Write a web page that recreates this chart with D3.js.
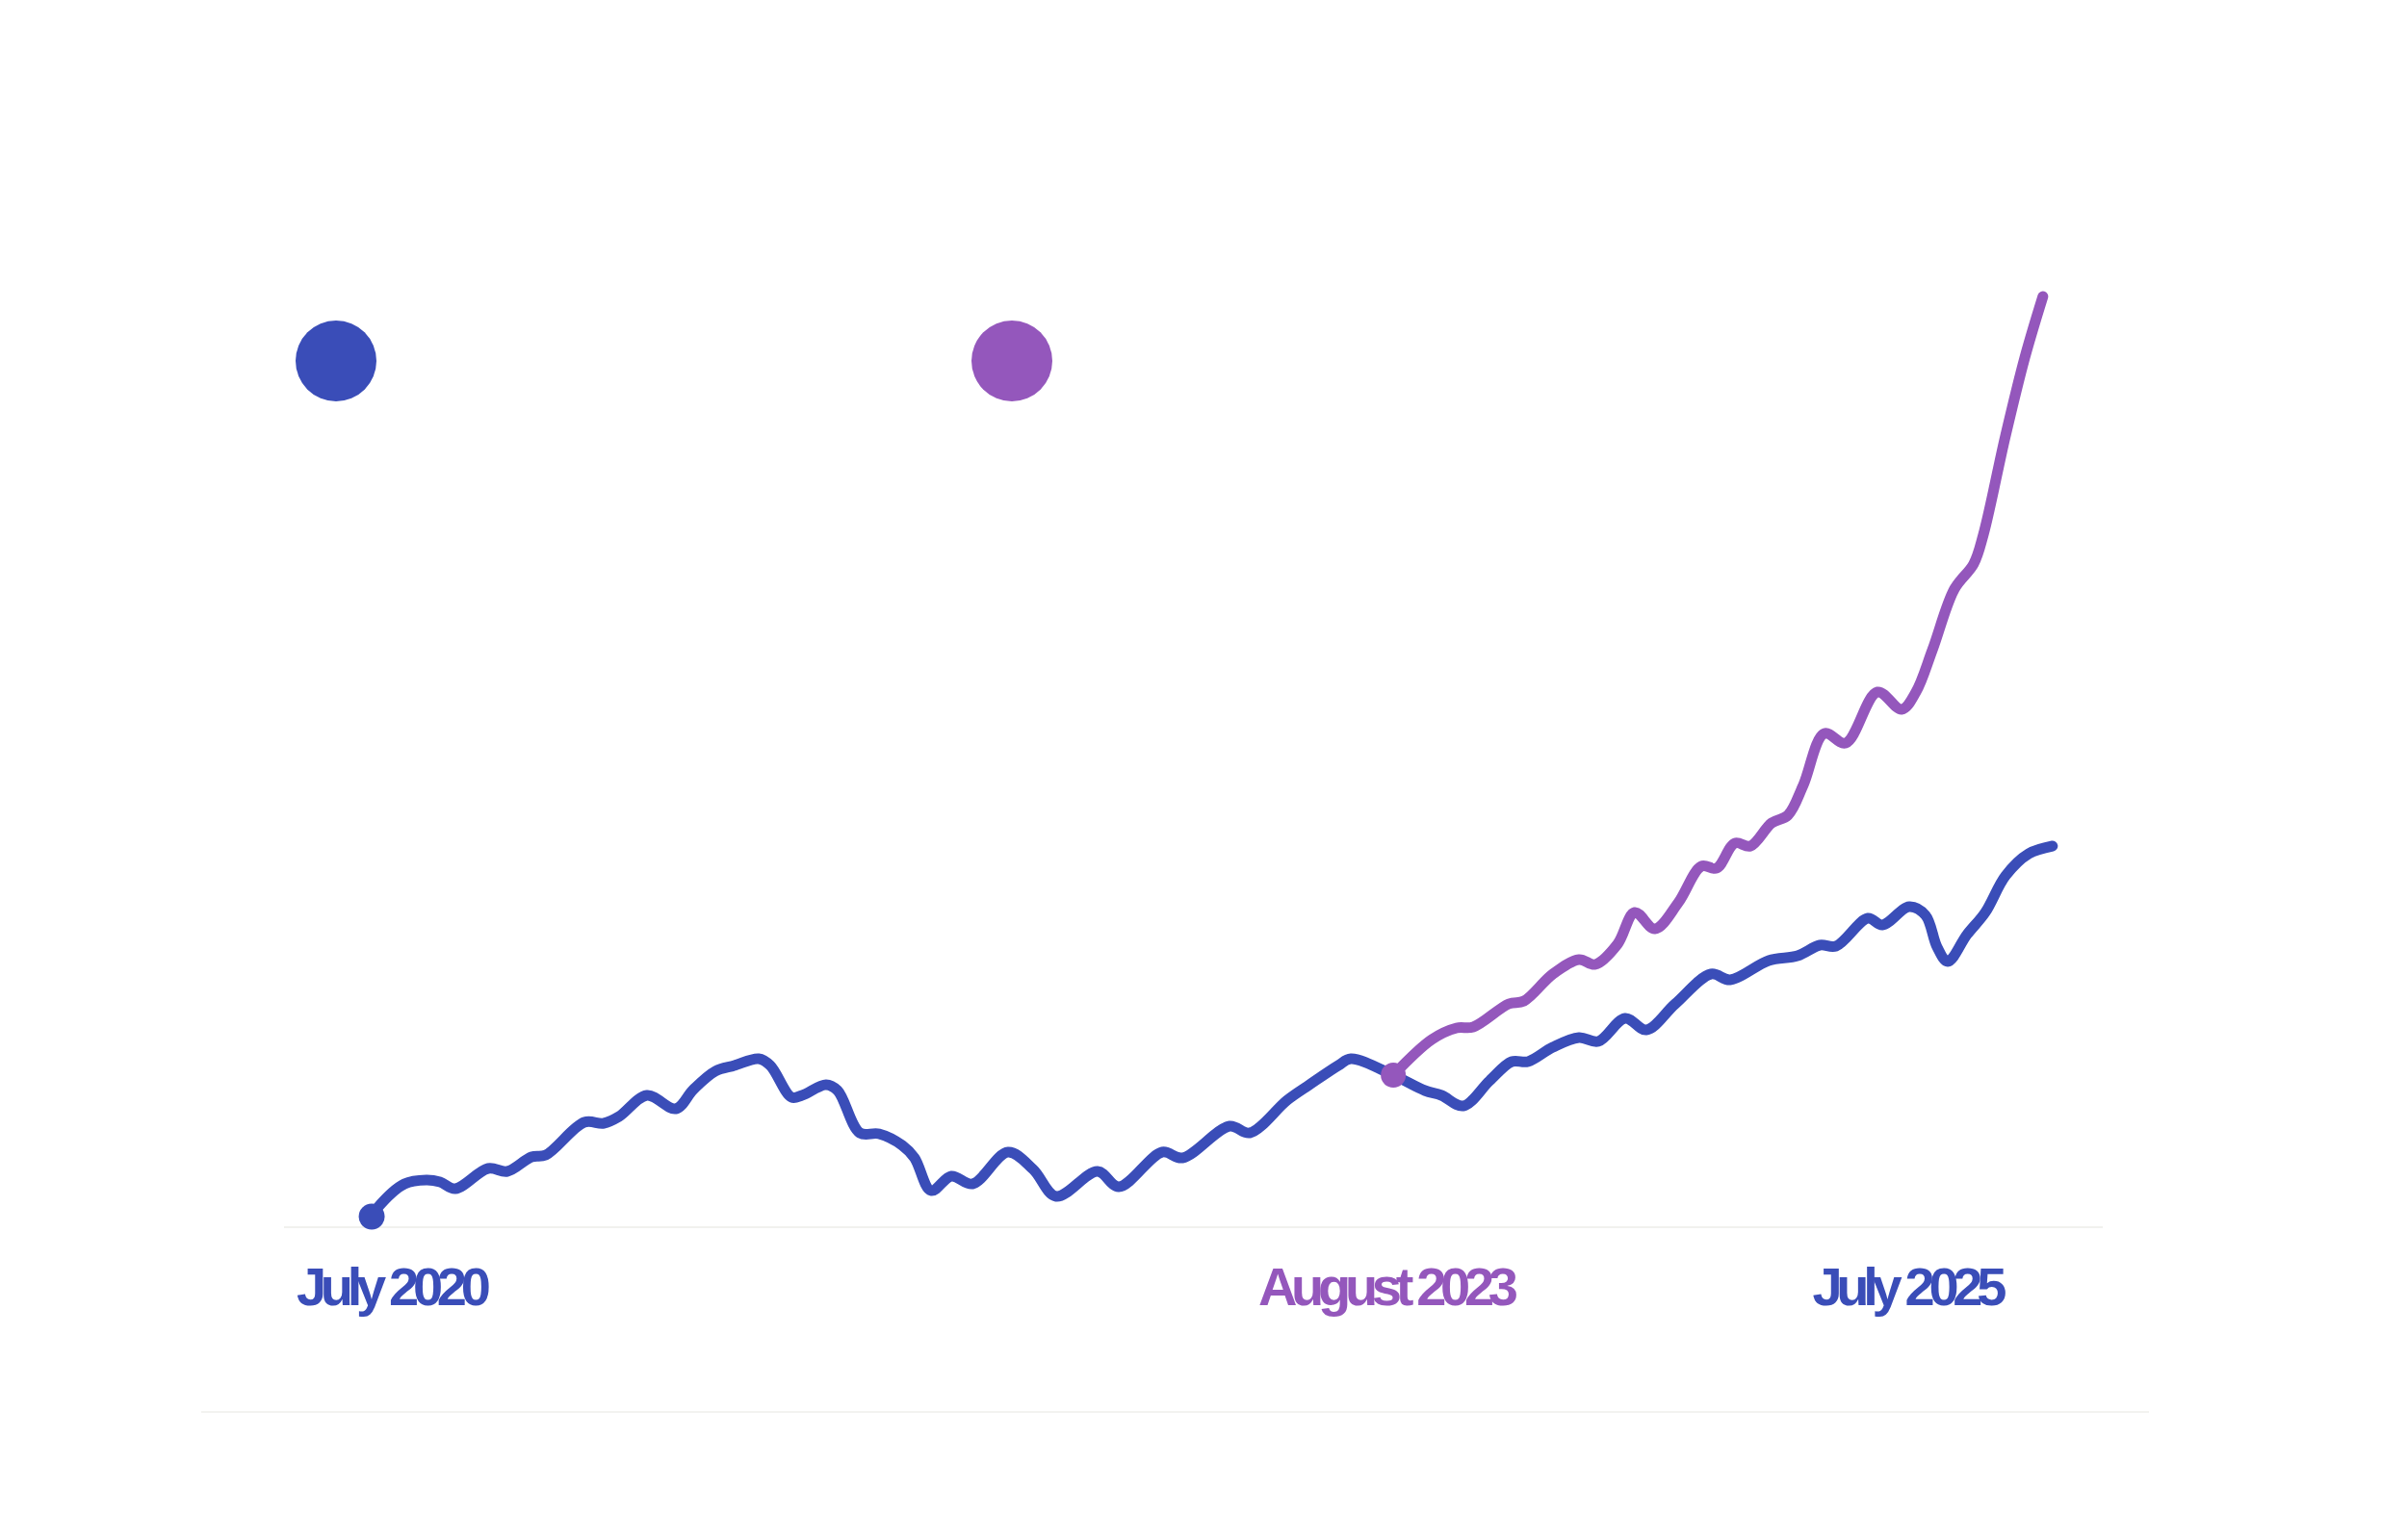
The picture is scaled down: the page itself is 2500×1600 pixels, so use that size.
<!DOCTYPE html>
<html>
<head>
<meta charset="utf-8">
<script src="https://cdn.jsdelivr.net/npm/d3@7"></script>
<style>
  body { margin: 0; background: #fff; }
</style>
</head>
<body>
<div id="chart"></div>
<script>
let width = 2500,
  height = 1600;

// blue series (fractional years, index values)
const blueYears = [2020.506, 2020.523, 2020.605, 2020.671, 2020.712, 2020.758, 2020.857, 2020.915, 2020.988, 2021.031,
  2021.147, 2021.206, 2021.252, 2021.336, 2021.423, 2021.476, 2021.542, 2021.600, 2021.673, 2021.708,
  2021.772, 2021.804, 2021.876, 2021.911, 2021.978, 2022.036, 2022.106, 2022.143, 2022.193, 2022.254,
  2022.318, 2022.425, 2022.501, 2022.570, 2022.695, 2022.759, 2022.890, 2022.951, 2023.093, 2023.154,
  2023.267, 2023.334, 2023.421, 2023.459, 2023.587, 2023.682, 2023.732, 2023.798, 2023.877, 2023.944,
  2023.993, 2024.068, 2024.147, 2024.205, 2024.286, 2024.350, 2024.437, 2024.545, 2024.603, 2024.719,
  2024.806, 2024.873, 2024.922, 2025.018, 2025.062, 2025.143, 2025.192, 2025.227, 2025.259, 2025.317,
  2025.372, 2025.433, 2025.503, 2025.575];
const blueValues = [1.1, 2.0, 4.5, 4.9, 4.7, 4.0, 6.1, 5.8, 7.3, 7.5,
  10.9, 10.8, 11.5, 13.7, 12.3, 14.3, 16.2, 16.8, 17.5, 16.8,
  13.5, 13.7, 14.8, 14.2, 9.8, 9.7, 8.5, 7.2, 3.8, 5.3,
  4.5, 7.8, 6.0, 3.2, 5.8, 4.2, 7.8, 7.2, 10.5, 9.8,
  13.2, 14.8, 16.8, 17.5, 15.8, 14.2, 13.7, 12.6, 15.2, 17.2,
  17.2, 18.7, 19.7, 19.3, 21.7, 20.5, 23.2, 26.3, 25.7, 27.7,
  28.2, 29.3, 29.2, 32.1, 31.4, 33.3, 32.4, 29.1, 27.6, 30.4,
  32.7, 36.5, 38.8, 39.6];

// purple series, branching off in August 2023
const purpleYears = [2023.587, 2023.703, 2023.778, 2023.828, 2023.935, 2023.981, 2024.068, 2024.147, 2024.196, 2024.263,
  2024.315, 2024.376, 2024.446, 2024.516, 2024.562, 2024.617, 2024.664, 2024.728, 2024.777, 2024.823,
  2024.887, 2024.951, 2025.047, 2025.120, 2025.163, 2025.213, 2025.279, 2025.337, 2025.366, 2025.433,
  2025.491, 2025.546];
const purpleValues = [15.8, 19.5, 20.7, 20.8, 23.2, 23.5, 26.3, 27.8, 27.3, 29.4,
  32.7, 31.0, 33.7, 37.5, 37.3, 39.9, 39.6, 42.0, 42.8, 45.9,
  51.3, 50.3, 55.6, 53.8, 55.6, 60.0, 66.3, 68.9, 71.9, 82.2,
  90.3, 96.7];

const labelTexts = ['July 2020', 'August 2023', 'July 2025'];
const labelYears = [2020.5, 2023.583, 2025.5];
const seriesColors = ['#3a4db8', '#9457bc'];

let svg = d3.select('#chart')
  .append('svg')
  .attr('width', width)
  .attr('height', height)
  .style('background-color', '#fff');

let xScale = d3.scaleLinear()
  .domain([2020.5, 2025.5])
  .range([384, 2106]);

let yScale = d3.scaleLinear()
  .domain([0, 100])
  .range([1275, 275]);

// faint baseline and bottom rule
svg.append('line')
  .attr('x1', 295).attr('x2', 2184)
  .attr('y1', yScale(0)).attr('y2', yScale(0))
  .attr('stroke', '#f1f1ee')
  .attr('stroke-width', 2);

svg.append('line')
  .attr('x1', 209).attr('x2', 2232)
  .attr('y1', 1467).attr('y2', 1467)
  .attr('stroke', '#f3f3f0')
  .attr('stroke-width', 2);

// legend dots
svg.selectAll('.legend-dot')
  .data(seriesColors)
  .enter()
  .append('circle')
  .attr('class', 'legend-dot')
  .attr('cx', function(d, i) { return 349 + i * 702; })
  .attr('cy', 375)
  .attr('r', 42)
  .attr('fill', function(d) { return d; });

let line = d3.line()
  .x(function(d) { return xScale(d[0]); })
  .y(function(d) { return yScale(d[1]); })
  .curve(d3.curveCatmullRom.alpha(0.5));

let blueData = d3.zip(blueYears, blueValues);
let purpleData = d3.zip(purpleYears, purpleValues);

svg.append('path')
  .datum(blueData)
  .attr('d', line)
  .attr('fill', 'none')
  .attr('stroke', seriesColors[0])
  .attr('stroke-width', 11)
  .attr('stroke-linecap', 'round')
  .attr('stroke-linejoin', 'round');

svg.append('path')
  .datum(purpleData)
  .attr('d', line)
  .attr('fill', 'none')
  .attr('stroke', seriesColors[1])
  .attr('stroke-width', 11)
  .attr('stroke-linecap', 'round')
  .attr('stroke-linejoin', 'round');

// start markers
svg.append('circle')
  .attr('cx', xScale(blueYears[0]))
  .attr('cy', yScale(blueValues[0]))
  .attr('r', 13.5)
  .attr('fill', seriesColors[0]);

svg.append('circle')
  .attr('cx', xScale(purpleYears[0]))
  .attr('cy', yScale(purpleValues[0]))
  .attr('r', 13)
  .attr('fill', seriesColors[1]);

// date labels under the baseline
let labelAnchor = ['start', 'middle', 'end'];
let labelShift = [-76, -7, -28];
let labelColor = [seriesColors[0], seriesColors[1], seriesColors[0]];

svg.selectAll('.date-label')
  .data(labelTexts)
  .enter()
  .append('text')
  .attr('class', 'date-label')
  .attr('x', function(d, i) { return xScale(labelYears[i]) + labelShift[i]; })
  .attr('y', 1356)
  .attr('text-anchor', function(d, i) { return labelAnchor[i]; })
  .style('font-family', '"Liberation Sans", Arial, sans-serif')
  .style('font-weight', 'bold')
  .style('font-size', '56px')
  .style('letter-spacing', '-6.3px')
  .attr('fill', function(d, i) { return labelColor[i]; })
  .text(function(d) { return d; });
</script>
</body>
</html>
